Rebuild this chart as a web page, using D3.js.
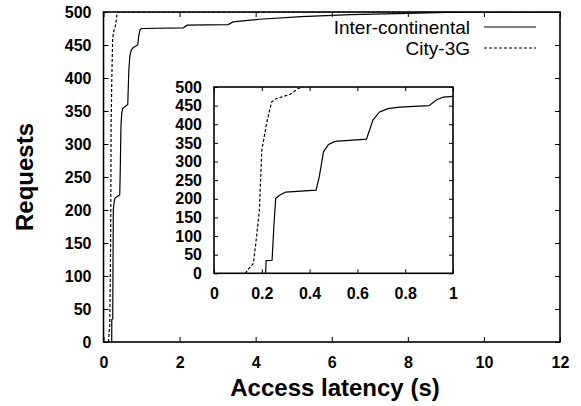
<!DOCTYPE html>
<html>
<head>
<meta charset="utf-8">
<script src="https://cdn.jsdelivr.net/npm/d3@7"></script>
<style>
  body { margin: 0; background: #fff; }
  svg { font-family: "Liberation Sans", Arial, Helvetica, sans-serif; }
  .tick text { font-weight: bold; font-size: 16px; fill: #000; }
  .axis-title { font-weight: bold; font-size: 24px; }
  .legend text { font-size: 19px; }
</style>
</head>
<body>
<div class="chart"></div>
<script>
// access latency (s) vs cumulative requests
const interX = [0.216, 0.218, 0.243, 0.25, 0.258, 0.276, 0.3, 0.427, 0.441, 0.458, 0.479, 0.506, 0.638, 0.665, 0.693, 0.728, 0.777, 0.9, 0.93, 0.96, 1.0, 2.1, 2.2, 3.28, 3.4, 4.1, 5.2, 6.5, 8, 9, 10, 12];
const interY = [0, 34, 35, 120, 201, 210, 218, 223, 261, 326, 346, 354, 360, 411, 433, 442, 446, 450, 465, 473, 475, 476, 480, 481, 485, 489, 493, 496, 498, 499.5, 500, 500];
const cityX = [0.13, 0.165, 0.178, 0.19, 0.2, 0.22, 0.241, 0.262, 0.318, 0.353, 0.374, 12];
const cityY = [0, 27, 98, 170, 330, 402, 460, 469, 480, 496, 500, 500];

const mainXTicks = [0, 2, 4, 6, 8, 10, 12];
const mainYTicks = [0, 50, 100, 150, 200, 250, 300, 350, 400, 450, 500];
const insetXTicks = [0, 0.2, 0.4, 0.6, 0.8, 1];
const insetYTicks = [0, 50, 100, 150, 200, 250, 300, 350, 400, 450, 500];

const series = [
  {name: "Inter-continental", dash: null, pts: interX.map((x, i) => [x, interY[i]])},
  {name: "City-3G", dash: "3,2", pts: cityX.map((x, i) => [x, cityY[i]])}
];

const svg_width = 581, svg_height = 406;
const svg = d3.select('.chart').append('svg')
  .attr('width', svg_width).attr('height', svg_height);

function drawPanel(g, x, y, xTicks, yTicks, tickLen, xFmt, clipId, xMax) {
  const [x0, x1] = x.range();
  const [y0, y1] = y.range();

  g.append('clipPath').attr('id', clipId).append('rect')
    .attr('x', x0).attr('y', y1).attr('width', x1 - x0).attr('height', y0 - y1);

  g.append('rect').attr('x', x0).attr('y', y1).attr('width', x1 - x0).attr('height', y0 - y1)
    .attr('fill', '#fff');

  // axes with labels
  const xAxis = d3.axisBottom(x).tickValues(xTicks).tickFormat(xFmt)
    .tickSizeInner(-tickLen).tickSizeOuter(0).tickPadding(12);
  const xg = g.append('g').attr('transform', `translate(0,${y0})`).call(xAxis);
  const yAxis = d3.axisLeft(y).tickValues(yTicks)
    .tickSizeInner(-tickLen).tickSizeOuter(0).tickPadding(12);
  const yg = g.append('g').attr('transform', `translate(${x0},0)`).call(yAxis);
  // mirror ticks
  const xTop = g.append('g').attr('transform', `translate(0,${y1})`)
    .call(d3.axisTop(x).tickValues(xTicks).tickSizeInner(-tickLen).tickSizeOuter(0).tickFormat(''));
  const yRight = g.append('g').attr('transform', `translate(${x1},0)`)
    .call(d3.axisRight(y).tickValues(yTicks).tickSizeInner(-tickLen).tickSizeOuter(0).tickFormat(''));
  [xg, yg, xTop, yRight].forEach(a => {
    a.select('.domain').remove();
    a.selectAll('line').attr('stroke', '#000').attr('stroke-width', 1);
    a.attr('font-family', null).attr('font-size', null);
  });
  xg.selectAll('text').attr('dy', '0.35em').attr('y', 20);

  const line = d3.line().x(d => x(d[0])).y(d => y(d[1]));
  series.forEach(s => {
    g.append('path')
      .datum(s.pts.filter(d => d[0] <= xMax))
      .attr('d', line)
      .attr('clip-path', `url(#${clipId})`)
      .attr('fill', 'none').attr('stroke', '#000').attr('stroke-width', 1.2)
      .attr('stroke-dasharray', s.dash);
  });

  g.append('rect').attr('x', x0).attr('y', y1).attr('width', x1 - x0).attr('height', y0 - y1)
    .attr('fill', 'none').attr('stroke', '#000').attr('stroke-width', 1.6);
}

// main chart
const xMain = d3.scaleLinear([0, 12], [103.5, 560]);
const yMain = d3.scaleLinear([0, 500], [342, 12]);
const mainG = svg.append('g');
drawPanel(mainG, xMain, yMain, mainXTicks, mainYTicks, 5, d3.format('d'), 'clip-main', 12);

// legend
const legend = svg.append('g').attr('class', 'legend');
series.forEach((s, i) => {
  const ly = 27 + i * 21;
  legend.append('text').attr('x', 470).attr('y', ly).attr('dy', '0.35em')
    .attr('text-anchor', 'end').text(s.name);
  legend.append('line').attr('x1', 484).attr('x2', 536).attr('y1', ly).attr('y2', ly)
    .attr('stroke', '#000').attr('stroke-width', 1.2).attr('stroke-dasharray', s.dash);
});

// inset
const xInset = d3.scaleLinear([0, 1], [214, 453]);
const yInset = d3.scaleLinear([0, 500], [273.3, 87]);
const insetG = svg.append('g');
drawPanel(insetG, xInset, yInset, insetXTicks, insetYTicks, 4, d => d === 0 || d === 1 ? d : d3.format('.1f')(d), 'clip-inset', 1.01);

// axis titles
svg.append('text').attr('class', 'axis-title')
  .attr('x', 335).attr('y', 388).attr('dy', '0.35em')
  .attr('text-anchor', 'middle').text('Access latency (s)');
svg.append('text').attr('class', 'axis-title')
  .attr('transform', `translate(25,${(342 + 12) / 2}) rotate(-90)`)
  .attr('dy', '0.35em').attr('text-anchor', 'middle').text('Requests');
</script>
</body>
</html>
